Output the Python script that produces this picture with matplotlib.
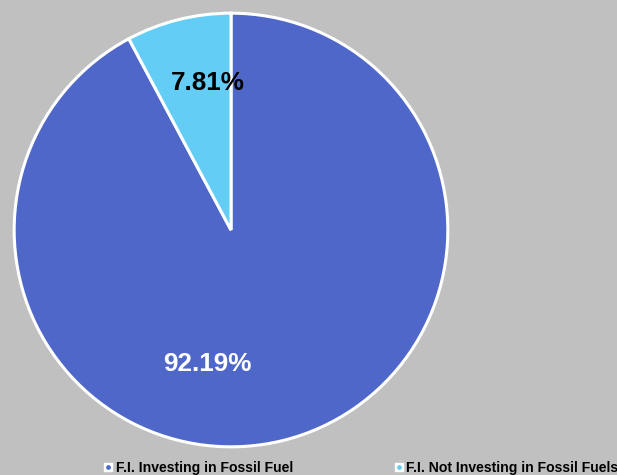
import matplotlib
matplotlib.use("Agg")
import matplotlib.pyplot as plt
from matplotlib.lines import Line2D

# data
labels = ["F.I. Investing in Fossil Fuel", "F.I. Not Investing in Fossil Fuels"]
shares = [92.19, 7.81]
colors = ["#4f67c8", "#63cdf5"]
pct_colors = ["white", "black"]
pct_pos = [(-0.11, -0.62), (-0.105, 0.68)]

plt.rcParams["font.family"] = ["Liberation Sans", "DejaVu Sans"]
bg = "#c0c0c0"

fig = plt.figure(figsize=(6.17, 4.75), dpi=100, facecolor=bg)
ax = fig.add_axes([12 / 617, 26 / 475, 438 / 617, 438 / 475])
ax.set_facecolor(bg)

wedges, texts, autotexts = ax.pie(
    shares, colors=colors, startangle=90, counterclock=False,
    autopct="%.2f%%", radius=1,
    wedgeprops=dict(edgecolor="white", linewidth=2.2),
    textprops=dict(fontsize=18.8, fontweight="bold"))
for t, c, p in zip(autotexts, pct_colors, pct_pos):
    t.set_color(c)
    t.set_position(p)
ax.set_xlim(-1.01, 1.01)
ax.set_ylim(-1.01, 1.01)
ax.axis("off")

# legend: white square with coloured dot
handles = []
for c in colors:
    sq = Line2D([], [], marker="s", markersize=6, color="white", linestyle="none")
    dot = Line2D([], [], marker="o", markersize=2.4, color=c, linestyle="none")
    handles.append((sq, dot))
fig.legend(handles, labels, ncol=2, loc="lower left",
           bbox_to_anchor=(93 / 617, -0.024), frameon=False,
           prop=dict(size=10.1, weight="bold"), handlelength=0.6,
           handletextpad=0.25, columnspacing=7.2, borderpad=0.3)

fig.savefig("out.png", dpi=100, facecolor=bg)
